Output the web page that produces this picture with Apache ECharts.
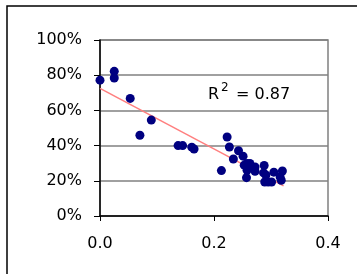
<!DOCTYPE html>
<html>
<head>
<meta charset="utf-8">
<script src="https://cdn.jsdelivr.net/npm/echarts@6/dist/echarts.min.js"></script>
<style>
  html, body { margin: 0; padding: 0; background: #fff; }
  #chart { width: 357px; height: 274px; }
</style>
</head>
<body>
<div id="chart"></div>
<script>
// 散点数据：x 值与百分比 y 值
const xValues = [0.000, 0.025, 0.025, 0.053, 0.070, 0.090, 0.137, 0.145, 0.161, 0.165,
                 0.213, 0.223, 0.227, 0.234, 0.243, 0.251, 0.253, 0.257, 0.258, 0.263,
                 0.258, 0.264, 0.272, 0.272, 0.288, 0.287, 0.291, 0.289, 0.295, 0.301,
                 0.305, 0.316, 0.318, 0.320]
const yValues = [77.2, 82.2, 78.4, 66.8, 45.9, 54.5, 40.0, 40.0, 39.1, 38.1,
                 25.8, 44.9, 39.2, 32.4, 37.1, 34.0, 28.9, 21.8, 29.8, 29.8,
                 26.0, 27.9, 27.9, 25.4, 28.7, 24.5, 23.3, 19.3, 19.3, 19.3,
                 24.9, 22.2, 20.3, 25.6]
// 趋势线两端
const trendX = [0, 0.322]
const trendY = [72.5, 17.1]
const xTicks = [0, 0.2, 0.4]
const yTicks = [0, 20, 40, 60, 80, 100]
const rSquared = '0.87'

const FONT = 'DejaVu Sans'

const chart = echarts.init(document.getElementById('chart'))

chart.setOption({
    animation: false,
    grid: {
        left: 100,
        right: 29,
        top: 40,
        bottom: 58,
        show: true,
        borderColor: '#808080',
        borderWidth: 1.5
    },
    xAxis: {
        type: 'value',
        min: xTicks[0],
        max: xTicks[xTicks.length - 1],
        interval: 0.2,
        axisLine: { onZero: false, lineStyle: { color: '#000', width: 1.5 } },
        axisTick: { show: true, length: 5, inside: false, lineStyle: { color: '#000' } },
        axisLabel: {
            margin: 20,
            color: '#000',
            fontFamily: FONT,
            fontSize: 16,
            formatter: v => v.toFixed(1)
        },
        splitLine: { show: false }
    },
    yAxis: {
        type: 'value',
        min: yTicks[0],
        max: yTicks[yTicks.length - 1],
        interval: 20,
        axisLine: { show: true, lineStyle: { color: '#000', width: 1.5 } },
        axisTick: { show: true, length: 6, lineStyle: { color: '#000' } },
        axisLabel: {
            margin: 18,
            color: '#000',
            fontFamily: FONT,
            fontSize: 16,
            formatter: '{value}%'
        },
        splitLine: { show: true, lineStyle: { color: '#808080', width: 1.5 } }
    },
    series: [
        {
            type: 'line',
            data: trendX.map((x, i) => [x, trendY[i]]),
            showSymbol: false,
            symbol: 'none',
            lineStyle: { color: '#FF7F7F', width: 1.5 },
            z: 2
        },
        {
            type: 'scatter',
            data: xValues.map((x, i) => [x, yValues[i]]),
            symbolSize: 9,
            itemStyle: { color: '#000080', opacity: 1 },
            z: 3
        }
    ],
    graphic: [
        {
            type: 'rect',
            shape: { x: 7, y: 6, width: 420, height: 320 },
            style: { fill: 'none', stroke: '#000', lineWidth: 1.5 },
            silent: true
        },
        // R² 标注，上标单独绘制
        {
            type: 'text',
            left: 208,
            top: 87,
            style: { text: 'R', font: '16px ' + FONT, fill: '#000' }
        },
        {
            type: 'text',
            left: 221,
            top: 82,
            style: { text: '2', font: '12px ' + FONT, fill: '#000' }
        },
        {
            type: 'text',
            left: 236,
            top: 87,
            style: { text: '= ' + rSquared, font: '16px ' + FONT, fill: '#000' }
        }
    ]
})
</script>
</body>
</html>
